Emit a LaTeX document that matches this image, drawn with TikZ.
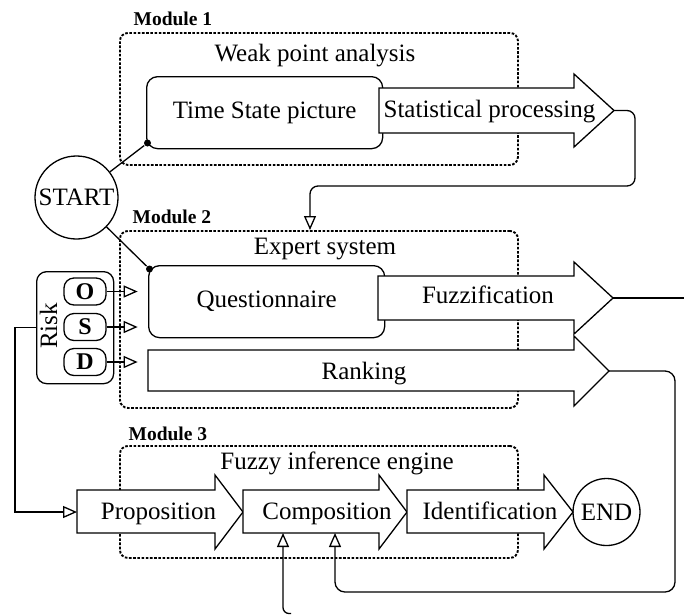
\documentclass[tikz,border=0pt]{standalone}
\usepackage{fontspec}
\setmainfont{Liberation Serif}
\usetikzlibrary{arrows.meta,calc}
\begin{document}
\begin{tikzpicture}[x=1pt,y=-1pt, line width=1.3pt,
  every node/.style={font=\fontsize{25}{28}\selectfont},
  dbox/.style={draw, line width=1.9pt, dash pattern=on 2.6pt off 1.6pt, rounded corners=8pt, anchor=north west, inner sep=0pt},
  rbox/.style={draw, rounded corners=11pt, inner sep=0pt, fill=white, anchor=north west},
  blk/.style={draw, fill=white, line join=miter},
  lbl/.style={font=\fontsize{19.5}{22}\selectfont\bfseries, anchor=base west, inner sep=0pt},
  txt/.style={inner sep=0pt, anchor=base},
  conn/.style={-{Triangle[open,length=14pt,width=12pt]}},
  dot/.style={circle, fill, inner sep=0pt, minimum size=7pt},
  letterbox/.style={draw, rounded corners=10pt, inner sep=0pt, minimum width=42pt, minimum height=27pt, font=\fontsize{24}{25}\selectfont\bfseries},
]
\useasboundingbox (0,0) rectangle (684,614);

% module frames
\node[dbox, minimum width=398pt, minimum height=132pt] (m1) at (119,32) {};
\node[dbox, minimum width=398pt, minimum height=177pt] (m2) at (119,230) {};
\node[dbox, minimum width=398pt, minimum height=112pt] (m3) at (119,445) {};
\node[lbl] (m1l) at (133,25) {Module 1};
\node[lbl] (m2l) at (132,223) {Module 2};
\node[lbl] (m3l) at (128,440) {Module 3};
\node[txt] (wpa) at (315,61) {Weak point analysis};
\node[txt] (es) at (325,254) {Expert system};
\node[txt] (fie) at (337,469) {Fuzzy inference engine};

% rounded boxes
\node[rbox, minimum width=236pt, minimum height=72pt] (ts) at (146,76) {Time State picture};
\node[rbox, minimum width=236pt, minimum height=72pt] (qn) at (148,265) {Questionnaire};

% block arrows
\draw[blk] (379,88) -- (574,88) -- (574,74) -- (614,110.5) -- (574,147) -- (574,133) -- (379,133) -- cycle;
\coordinate (sptip) at (614,110.5);
\node[txt] (sp) at (489.5,117) {Statistical processing};

\draw[blk] (148,350) -- (574,350) -- (574,336) -- (609,371) -- (574,406) -- (574,391) -- (148,391) -- cycle;
\coordinate (rktip) at (609,371);
\node[txt] (rk) at (364,379) {Ranking};

\draw[blk] (378,276) -- (574,276) -- (574,262) -- (613,298) -- (574,334) -- (574,320) -- (378,320) -- cycle;
\coordinate (fztip) at (613,298);
\node[txt] (fz) at (488,303) {Fuzzification};

\draw[blk] (77,490) -- (215,490) -- (215,475) -- (243,512) -- (215,549) -- (215,533) -- (77,533) -- cycle;
\coordinate (propin) at (77,512);
\node[txt] (prop) at (158.5,519) {Proposition};

\draw[blk] (243,490) -- (379,490) -- (379,475) -- (407,512) -- (379,549) -- (379,533) -- (243,533) -- cycle;
\coordinate (compa) at (283,533);
\coordinate (compb) at (335,533);
\node[txt] (comp) at (327,519) {Composition};

\draw[blk] (407,490) -- (544,490) -- (544,475) -- (573,512) -- (544,549) -- (544,533) -- (407,533) -- cycle;
\node[txt] (idf) at (490,519) {Identification};

% start / end
\node[draw, circle, minimum size=83pt, inner sep=0pt] (start) at (76.5,197.5) {START};
\node[draw, circle, minimum size=67pt, inner sep=0pt] (end) at (606.5,512) {END};

% risk
\node[draw, rounded corners=10pt, minimum width=77pt, minimum height=112pt, anchor=north west, inner sep=0pt] (risk) at (36,271) {};
\node[rotate=90, inner sep=0pt] (riskl) at (48.5,326) {Risk};
\node[letterbox] (o) at (85,291.5) {O};
\node[letterbox] (s) at (85,327) {S};
\node[letterbox] (d) at (85,362) {D};
\draw[conn] (o.east) -- ++(31,0);
\draw[conn] (s.east) -- ++(31,0);
\draw[conn] (d.east) -- ++(31,0);

% dots and start lines
\node[dot] (d1) at (147.5,143) {};
\node[dot] (d2) at (149.5,269) {};
\draw (start) -- (d1);
\draw (start) -- (d2);

% connectors
\coordinate (m2in) at (310,230);
\draw[conn, rounded corners=8pt] (sptip) -| (635,186) -| (m2in);
\coordinate (fzout) at (684,298);
\draw (fztip) -- (fzout);
\draw[conn, rounded corners=10pt] (rktip) -| (675,592) -| (compb);
\coordinate (bottomin) at (291,613.5);
\draw[conn, rounded corners=6pt] (bottomin) -| (compa);
\draw[conn] (risk.west) -- ++(-21,0) |- (propin);
\end{tikzpicture}
\end{document}
